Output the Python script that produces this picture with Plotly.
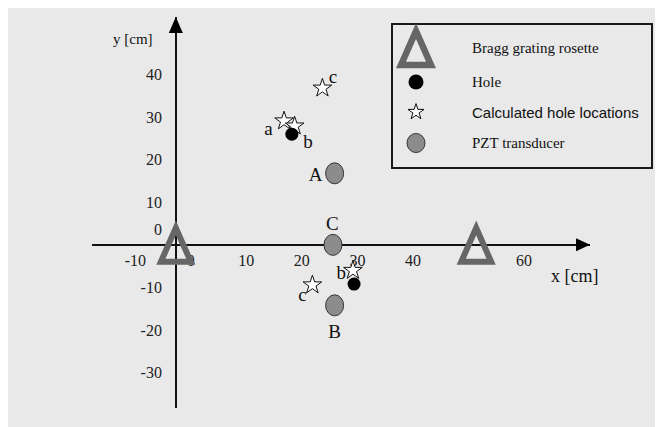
import plotly.graph_objects as go

W, H = 663, 427
OX, OY = 8, 8  # page margin around the figure in the browser

# ---------------- data ----------------
rosette_x = [-2.7, 51.4]
rosette_y = [0.0, 0.0]
hole_x = [18.2, 29.4]
hole_y = [26.0, -9.2]
calc_x = [16.8, 18.7, 23.7, 29.2, 21.9]
calc_y = [29.1, 27.9, 36.8, -6.0, -9.4]
pzt_x = [25.9, 25.6, 25.9]
pzt_y = [16.8, 0.0, -14.2]
label_text = ["a", "b", "c", "A", "C", "b", "c", "B"]
label_x = [14.0, 21.1, 25.6, 22.5, 25.5, 27.1, 20.1, 25.9]
label_y = [26.9, 23.9, 39.1, 16.0, 4.7, -7.0, -12.1, -20.7]
x_ticks = [-10, 0, 10, 20, 30, 40, 60]
y_ticks = [40, 30, 20, 10, -10, -20, -30]
legend_names = ["Bragg grating rosette", "Hole", "Calculated hole locations", "PZT transducer"]

# ---------------- layout helpers ----------------
X_RANGE = [-17.8, 71.9]
Y_RANGE = [-38.3, 53.5]


def fx(px):
    return (px - OX) / W


def fy(py):
    return 1 - (py - OY) / H


L, R, T, B = 92, 590, 17, 408  # plot area in screen pixels
xdom = [fx(L), fx(R)]
ydom = [fy(B), fy(T)]
Y_AXIS_AT = -2.7  # x value where vertical axis is drawn


def pos_x(v):
    return xdom[0] + (v - X_RANGE[0]) / (X_RANGE[1] - X_RANGE[0]) * (xdom[1] - xdom[0])


def pos_y(v):
    return ydom[0] + (v - Y_RANGE[0]) / (Y_RANGE[1] - Y_RANGE[0]) * (ydom[1] - ydom[0])


SERIF = "Liberation Serif, Times New Roman, serif"
SANS = "Liberation Sans, Arial, sans-serif"
TRI_PATH = "M-15,-17 L0,17 L15,-17 Z"
TRI_COLOR = "#666666"
PZT_FILL = "#8c8c8c"
BG = "#e9e9e9"

fig = go.Figure()

# calculated hole locations (stars)
fig.add_trace(go.Scatter(
    x=calc_x, y=calc_y, mode="markers",
    marker=dict(symbol="star", size=14, color="white", line=dict(color="#111", width=1)),
    showlegend=False, hoverinfo="skip"))
# holes
fig.add_trace(go.Scatter(
    x=hole_x, y=hole_y, mode="markers",
    marker=dict(symbol="circle", size=13, color="#000"),
    showlegend=False, hoverinfo="skip"))
# point labels
fig.add_trace(go.Scatter(
    x=label_x, y=label_y, mode="text", text=label_text,
    textfont=dict(family=SERIF, size=19, color="#111"),
    showlegend=False, hoverinfo="skip", cliponaxis=False))

shapes = []
# rosettes (triangles)
for xv, yv in zip(rosette_x, rosette_y):
    shapes.append(dict(type="path", xref="x", yref="y", xsizemode="pixel", ysizemode="pixel",
                       xanchor=xv, yanchor=yv, path=TRI_PATH,
                       line=dict(color=TRI_COLOR, width=6), fillcolor="rgba(0,0,0,0)"))
# PZT transducers (ellipses)
for xv, yv in zip(pzt_x, pzt_y):
    shapes.append(dict(type="circle", xref="x", yref="y", xsizemode="pixel", ysizemode="pixel",
                       xanchor=xv, yanchor=yv, x0=-9, x1=9, y0=-10.5, y1=10.5,
                       fillcolor=PZT_FILL, line=dict(color="#333", width=1)))
# arrow heads
shapes.append(dict(type="path", xref="x", yref="y", xsizemode="pixel", ysizemode="pixel",
                   xanchor=X_RANGE[1], yanchor=0, path="M0,0 L-14,6.5 L-14,-6.5 Z",
                   fillcolor="#000", line=dict(width=0)))
shapes.append(dict(type="path", xref="x", yref="y", xsizemode="pixel", ysizemode="pixel",
                   xanchor=Y_AXIS_AT, yanchor=Y_RANGE[1], path="M0,0 L-7,-16 L7,-16 Z",
                   fillcolor="#000", line=dict(width=0)))

# legend box
shapes.append(dict(type="rect", xref="paper", yref="paper", x0=fx(392), x1=fx(652),
                   y0=fy(168), y1=fy(24), line=dict(color="#1a1a1a", width=2),
                   fillcolor="rgba(0,0,0,0)"))
leg_sym_px = 416
leg_rows = [48, 82, 112, 143]
shapes.append(dict(type="path", xref="paper", yref="paper", xsizemode="pixel", ysizemode="pixel",
                   xanchor=fx(leg_sym_px), yanchor=fy(leg_rows[0]), path="M-15,-17 L0,17 L15,-17 Z",
                   line=dict(color=TRI_COLOR, width=6.5), fillcolor="rgba(0,0,0,0)"))
shapes.append(dict(type="circle", xref="paper", yref="paper", xsizemode="pixel", ysizemode="pixel",
                   xanchor=fx(leg_sym_px), yanchor=fy(leg_rows[3]), x0=-9, x1=9, y0=-9.5, y1=9.5,
                   fillcolor=PZT_FILL, line=dict(color="#333", width=1)))

# legend markers for hole & star on an overlay screen-pixel axis
fig.add_trace(go.Scatter(
    x=[leg_sym_px], y=[leg_rows[1]], mode="markers", xaxis="x2", yaxis="y2",
    marker=dict(symbol="circle", size=15, color="#000"), showlegend=False, hoverinfo="skip"))
fig.add_trace(go.Scatter(
    x=[leg_sym_px], y=[leg_rows[2]], mode="markers", xaxis="x2", yaxis="y2",
    marker=dict(symbol="star", size=12, color="white", line=dict(color="#111", width=1)),
    showlegend=False, hoverinfo="skip"))

annotations = []
leg_fonts = [SERIF, SERIF, SANS, SERIF]
leg_sizes = [15, 15, 15, 15]
for name, row, fam, sz in zip(legend_names, leg_rows, leg_fonts, leg_sizes):
    annotations.append(dict(text=name, xref="paper", yref="paper", x=fx(470), y=fy(row),
                            xanchor="left", yanchor="middle", showarrow=False,
                            font=dict(family=fam, size=sz, color="#111")))
# axis titles
annotations.append(dict(text="y [cm]", xref="paper", yref="paper", x=fx(133), y=fy(39),
                        xanchor="center", yanchor="middle", showarrow=False,
                        font=dict(family=SERIF, size=15, color="#111")))
annotations.append(dict(text="x [cm]", xref="paper", yref="paper", x=fx(574), y=fy(276),
                        xanchor="center", yanchor="middle", showarrow=False,
                        font=dict(family=SERIF, size=18, color="#111")))
# y zero label (drawn above the x axis in the original)
annotations.append(dict(text="0", xref="x", yref="y", x=-5.9, y=3.6, showarrow=False,
                        xanchor="center", yanchor="middle",
                        font=dict(family=SERIF, size=16, color="#222")))

fig.update_layout(
    width=W, height=H, margin=dict(l=0, r=0, t=0, b=0),
    paper_bgcolor=BG, plot_bgcolor="rgba(0,0,0,0)",
    showlegend=False,
    shapes=shapes, annotations=annotations,
    xaxis=dict(domain=xdom, range=X_RANGE, anchor="free", position=pos_y(0),
               showline=True, linecolor="#111", linewidth=1.5, showgrid=False, zeroline=False,
               tickmode="array", tickvals=x_ticks, ticktext=[str(v) for v in x_ticks],
               ticks="", ticklabelstandoff=1, layer="below traces",
               tickfont=dict(family=SERIF, size=16, color="#222"), fixedrange=True),
    yaxis=dict(domain=ydom, range=Y_RANGE, anchor="free", position=pos_x(Y_AXIS_AT),
               showline=True, linecolor="#111", linewidth=1.5, showgrid=False, zeroline=False,
               tickmode="array", tickvals=y_ticks, ticktext=[str(v) for v in y_ticks],
               ticks="", ticklabelstandoff=10, layer="below traces",
               tickfont=dict(family=SERIF, size=16, color="#222"), fixedrange=True),
    xaxis2=dict(domain=[0, 1], range=[fx(0) * 0 + OX, W + OX], anchor="y2", visible=False, fixedrange=True),
    yaxis2=dict(domain=[0, 1], range=[H + OY, OY], anchor="x2", visible=False, fixedrange=True),
)

fig.write_html("out.html")
